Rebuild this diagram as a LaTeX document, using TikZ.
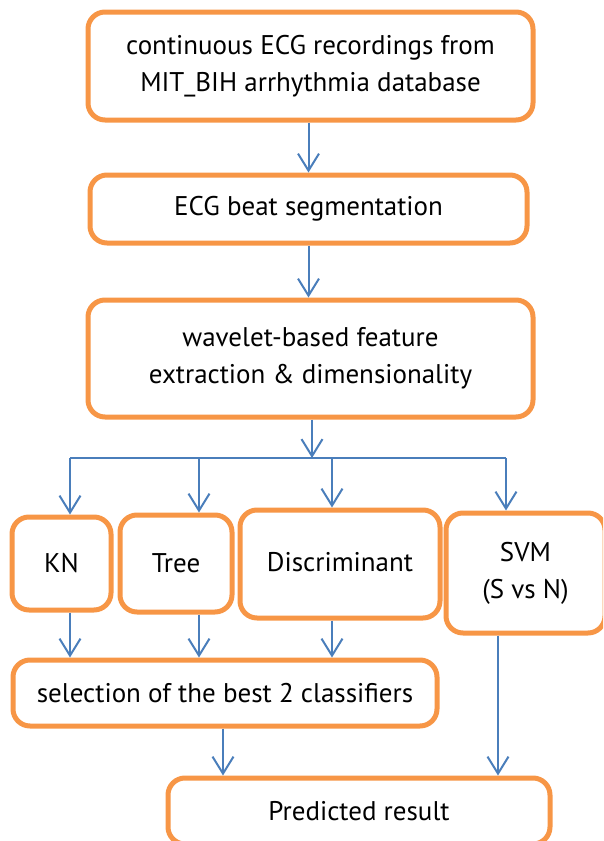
\documentclass[tikz,border=0pt]{standalone}
\usepackage{fontspec}
\setmainfont{PT Sans}
\usetikzlibrary{arrows.meta}
\definecolor{boxorange}{HTML}{F79646}
\definecolor{arrblue}{HTML}{4A7EBB}
\tikzset{
  box/.style={draw=boxorange, line width=5pt, rounded corners=17pt, fill=white,
    align=center, inner sep=0pt, font=\fontsize{27}{37}\selectfont},
  arr/.style={draw=arrblue, line width=2pt, -{Straight Barb[length=17pt,width=21pt,line width=2pt]}},
  bus/.style={draw=arrblue, line width=2pt}
}
\begin{document}
\begin{tikzpicture}[x=1pt,y=-1pt]
\useasboundingbox (0,0) rectangle (603,841);
\clip (0,0) rectangle (603,841);
\node[box, minimum width=445pt, minimum height=108pt] (rec) at (310.5,66) {continuous ECG recordings from\\MIT\_BIH arrhythmia database};
\node[box, minimum width=437pt, minimum height=68pt] (seg) at (308.5,209) {ECG beat segmentation};
\node[box, minimum width=445pt, minimum height=117pt] (feat) at (310.5,358.5) {wavelet-based feature\\extraction \& dimensionality};
\node[box, minimum width=99pt, minimum height=93pt] (kn) at (61.5,563.5) {KN};
\node[box, minimum width=112pt, minimum height=97pt] (tree) at (176,563.5) {Tree};
\node[box, minimum width=200pt, minimum height=108pt] (disc) at (340,564) {\raisebox{4pt}{Discriminant}};
\node[box, minimum width=159pt, minimum height=120pt] (svm) at (525.5,573) {SVM\\(S vs N)};
\node[box, minimum width=424pt, minimum height=66pt] (sel) at (225,693) {selection of the best 2 classifiers};
\node[box, minimum width=382pt, minimum height=66pt] (pred) at (359,811) {Predicted result};
\coordinate (b0) at (312,458);
\coordinate (b1) at (70,458);
\coordinate (b2) at (199,458);
\coordinate (b3) at (332,458);
\coordinate (b4) at (506,458);
\coordinate (c1) at (223,740);
\coordinate (c2) at (498,740);
\draw[arr] (rec.south -| seg.north) -- (seg.north);
\draw[arr] (seg.south) -- (seg.south |- feat.north);
\draw[arr] (feat.south -| b0) -- (b0);
\draw[bus] (b1) -- (b4);
\draw[arr] (b1) -- (b1 |- kn.north);
\draw[arr] (b2) -- (b2 |- tree.north);
\draw[arr] (b3) -- (b3 |- disc.north);
\draw[arr] (b4) -- (b4 |- svm.north);
\draw[arr] (kn.south -| b1) -- (b1 |- sel.north);
\draw[arr] (tree.south -| b2) -- (b2 |- sel.north);
\draw[arr] (disc.south -| b3) -- (b3 |- sel.north);
\draw[arr] (sel.south -| c1) -- (c1 |- pred.north);
\draw[arr] (svm.south -| c2) -- (c2 |- pred.north);
\end{tikzpicture}
\end{document}
